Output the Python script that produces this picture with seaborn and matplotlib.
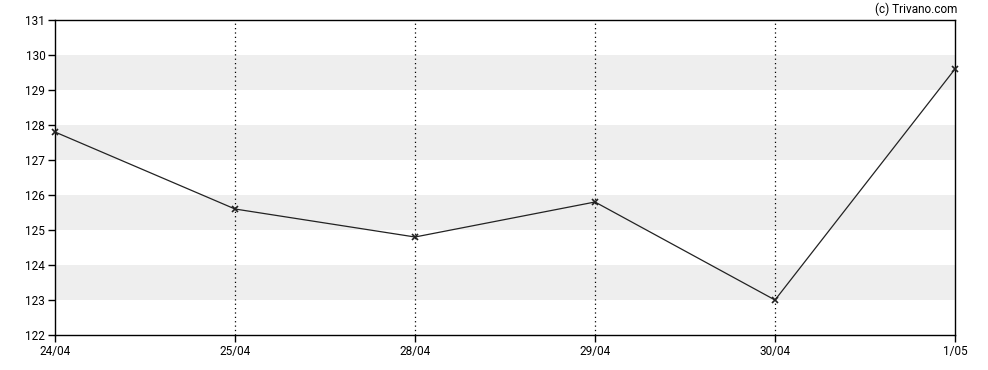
import matplotlib
matplotlib.use("Agg")

import matplotlib.pyplot as plt
import numpy as np
import pandas as pd
import seaborn as sns

dates = ["24/04", "25/04", "28/04", "29/04", "30/04", "1/05"]
prices = [127.8, 125.6, 124.8, 125.8, 123.0, 129.6]
y_ticks = [122, 123, 124, 125, 126, 127, 128, 129, 130, 131]
bands = [(123, 124), (125, 126), (127, 128), (129, 130)]

sns.set_theme(style="white")
plt.rcParams["font.family"] = ["Roboto", "DejaVu Sans"]

df = pd.DataFrame({"pos": np.arange(len(dates)), "price": prices})

fig = plt.figure(figsize=(9.88, 3.70), dpi=100)
ax = fig.add_axes([55 / 988, 1 - 335 / 370, 900 / 988, 315 / 370])

for lo, hi in bands:
    ax.axhspan(lo, hi, color="#eeeeee", linewidth=0, zorder=0)

for x in df["pos"][1:-1]:
    ax.axvline(x, color="black", linestyle=(0, (1, 2.5)), linewidth=0.9, zorder=1)

sns.lineplot(data=df, x="pos", y="price", color="#222222", linewidth=0.9,
             marker="x", markersize=4, markeredgewidth=1.2, markeredgecolor="#222222",
             ax=ax, zorder=3, clip_on=False)

ax.set_xlim(0, len(dates) - 1)
ax.set_ylim(122, 131)
ax.set_xticks(df["pos"])
ax.set_xticklabels(dates)
ax.set_yticks(y_ticks)
ax.set_xlabel("")
ax.set_ylabel("")
ax.tick_params(axis="both", direction="out", length=5, width=1, color="black",
               labelsize=8.5, labelcolor="black", pad=2, bottom=True, left=True)
for side in ["left", "bottom", "top", "right"]:
    ax.spines[side].set_color("black")
    ax.spines[side].set_linewidth(1)

fig.text(957 / 988, 1 - 9 / 370, "(c) Trivano.com", ha="right", va="center",
         fontsize=8.5, color="black")

fig.savefig("out.png", dpi=100)
plt.close(fig)
